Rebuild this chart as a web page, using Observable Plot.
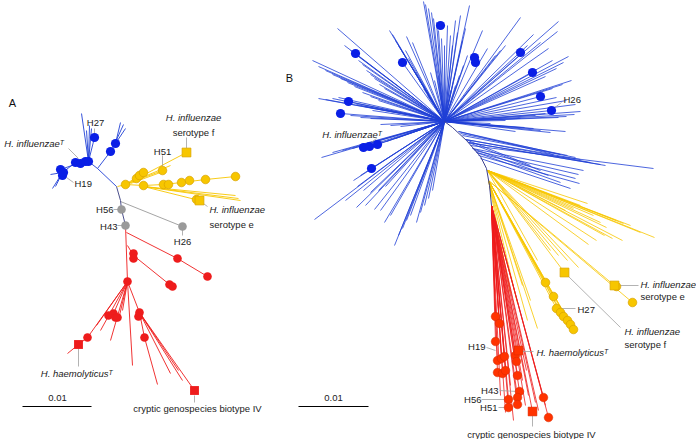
<!DOCTYPE html>
<html><head><meta charset="utf-8">
<script src="https://cdn.jsdelivr.net/npm/d3@7"></script>
<script src="https://cdn.jsdelivr.net/npm/@observablehq/plot@0.6"></script>
<style>body{margin:0;background:#fff}</style>
</head><body><div id="chart"></div>
<script>
// ---------- Panel A: tree branches [x1,y1,x2,y2] in layout units ----------
const aBlue = [[97,168,116,186],[97,168,88,161],[97,168,110,151],[110,151,115,143],[115,143,120,122],[115,143,125,128],[113,146,123,124],
  [88,161,81,113],[88,161,94,137],[88,161,89,125],[88,161,91,128],[88,161,86,130],[88,161,75,162],[75,162,62,172],[62,172,50,174],[62,172,52,188],[62,172,55,186],[80,162,60,169]];
const aBackbone = [[116,186,120,200],[120,200,121,209],[121,209,125,225]];
const aYellow = [[117,186,125,184],[125,184,186,152],[125,184,162,170],[125,184,170,165],[125,184,143,172],[125,184,143,185],[143,185,163,184],[163,184,181,182],[181,182,205,179],[205,179,235,176],[163,184,168,184],
  [143,186,238,198],[143,186,235,195],[143,186,240,200],[143,186,199,200],[130,183,160,172]];
const aGray = [[120,201,182,226]];
const aRed = [[125,225,127,281],[126,232,177,258],[177,258,207,276],[127,245,133,255],[133,255,169,284],[169,284,172,286],
  [127,281,113,313],[113,313,108,315],[113,313,117,317],[127,281,119,315],[127,281,122,310],[127,281,87,337],[87,337,78,344],[78,344,67,353],[127,281,100,330],[127,281,110,340],[127,281,96,325],
  [127,281,132,365],[127,281,139,312],[139,312,138,316],[139,312,144,337],[144,337,157,384],[139,312,170,373],[139,312,182,380],[139,312,194,390],[139,312,178,370]];
const aBlueDots = [[94,137],[115,143],[110,151],[75,162],[80,163],[85,161],[88,161],[60,169],[62,175],[63,172]];
const aYellowDots = [[125,184],[136,178],[139,175],[143,172],[143,185],[162,170],[163,184],[168,184],[181,182],[189,180],[205,179],[235,176],[196,199]];
const aYellowSquares = [[186,152],[199,200]];
const aGrayDots = [[121,209],[125,225],[182,226]];
const aRedDots = [[133,253],[133,258],[177,258],[207,276],[169,284],[172,286],[127,281],[108,315],[113,313],[115,317],[117,317],[87,337],[139,312],[138,316],[144,337]];
const aRedSquares = [[78,344],[194,390]];

// ---------- Panel B ----------
const bCenter = [444,121];
const bBlueTips = [[423,1],[425,4],[428,8],[431,12],[433,18],[436,22],[438,30],[441,38],[444,45],[447,25],[450,35],[452,45],[455,20],[457,32],[460,15],[462,40],[465,28],[469,5],[467,55],[463,65],[459,75],[455,85],[450,90],[438,75],[434,80],[430,72],
  [337,28],[344,45],[350,50],[355,53],[358,60],[362,64],[366,70],[370,74],[374,78],[379,84],[384,88],[389,30],[392,34],[395,40],[398,45],[402,62],[405,50],[408,58],[411,66],[415,72],[419,80],[423,88],[427,95],[412,42],[406,36],
  [312,60],[318,66],[325,70],[332,74],[340,78],[347,82],[354,86],[362,92],[370,96],[378,100],[318,98],[325,99],[332,98],[338,97],[348,101],[356,104],[364,106],[372,110],[340,113],[350,115],[360,117],[370,118],[380,124],[390,125],[400,126],
  [321,157],[332,152],[342,150],[352,148],[363,147],[370,146],[377,144],[386,141],[395,138],[405,134],[415,130],[371,168],[360,175],[353,180],[357,186],[363,190],[370,192],[378,190],[385,186],[356,207],[365,205],[374,209],[314,219],[345,200],[394,245],[398,235],[402,228],[406,220],[410,215],[416,222],[420,212],[424,205],[428,198],[432,190],[390,215],[384,222],[380,210],
  [482,30],[487,48],[495,55],[500,50],[505,45],[520,17],[522,52],[527,45],[533,34],[540,42],[558,21],[557,31],[548,48],[552,60],[568,56],[563,62],[556,68],[532,72],[545,76],[571,80],[562,84],[552,88],[540,96],[556,97],[566,100],[575,104],[580,111],[574,114],[566,116],[558,117],[551,110],[545,113],[535,115],[520,118],[505,120],[490,123],
  [500,126],[524,127],[533,128],[540,130],[565,131],[550,132],[515,131]];
const bBlueSide = [[458,131,553,154],[458,131,560,154],[460,133,567,155],[462,135,575,157],[465,139,580,159],[465,139,590,162],[468,142,600,164],[468,142,605,165],[470,145,653,168],[472,148,583,170],[474,150,578,174],[476,152,575,178],[478,155,579,183],[480,158,570,188],[476,152,560,182],[472,148,548,175],[468,142,540,170],[465,139,530,165]];
const bBackbone = [[444,121],[452,127],[466,140],[480,156],[486,168],[489,185],[491,205]];
const bYellowRoot = [487,170];
const bYellowTips = [[654,237],[640,232],[630,225],[623,223],[616,220],[606,227],[600,222],[593,215],[587,203],[580,205],[573,208],[565,210],[622,240],[612,238],[604,235],[596,240],[588,244],[578,267],[567,260],[564,272],[558,255],[550,250],[537,260]];
const bYellowRoot2 = [488,180];
const bYellowTips2 = [[545,282],[553,296],[556,308],[560,312],[563,316],[567,320],[570,324],[573,329],[614,285],[632,302],[537,328],[527,320],[517,303],[510,293],[530,300],[522,285]];
const bRedRoot = [491,205];
const bRedTips = [[495,316],[499,323],[495,341],[497,360],[501,358],[504,356],[497,372],[502,373],[505,370],[515,355],[516,361],[517,375],[519,391],[517,397],[508,399],[508,407],[517,404],[543,397],[548,417],[518,350],[532,411],[513,420],[505,412],[500,395],[525,405],[528,395],[535,402],[538,410],[545,405],[522,380],[510,385],[526,370]];
const bBlueDots = [[440,25],[355,53],[402,62],[348,101],[340,113],[363,147],[369,146],[377,144],[371,168],[474,57],[475,62],[520,52],[532,72],[540,96],[551,110]];
const bYellowDots = [[545,282],[553,296],[556,308],[560,312],[563,316],[567,320],[570,324],[573,329],[616,286],[632,302]];
const bYellowSquares = [[564,272],[614,285]];
const bRedDots = [[495,316],[499,323],[495,341],[497,360],[501,358],[504,356],[497,372],[502,373],[505,370],[515,355],[516,361],[517,375],[519,391],[517,397],[508,399],[508,407],[517,404],[543,397],[548,417]];
const bRedSquares = [[518,350],[532,411]];

// ---------- Labels ----------
const panelLabels = [["A",12,103],["B",289,78]];
const labelsMiddle = [["H27",95,122],["H51",162,151],["H26",182,241],["serotype f",193,132],["0.01",57,397],["0.01",333,397],["cryptic genospecies biotype IV",197,408],["cryptic genospecies biotype IV",531,434]];
const labelsStart = [["H26",563,99],["H19",74,183],["serotype e",209,224],["H27",577,309],["serotype e",640,296],["serotype f",624,344]];
const labelsEnd = [["H56",113,209],["H43",117,226],["H19",485,346],["H43",498,390],["H56",481,399],["H51",497,407]];
const italicMiddle = [["H. influenzae",193,117],["H. haemolyticus\u1D40",76,373]];
const italicStart = [["H. influenzae",209,209],["H. influenzae",640,284],["H. influenzae",624,331],["H. haemolyticus\u1D40",536,352]];
const italicEnd = [["H. influenzae\u1D40",63,143],["H. influenzae\u1D40",381,134]];
const leaders = [[94,128,94,133],[68,148,78,158],[66,177,73,182],[186,137,186,148],[162,155,162,166],[200,201,207,206],[113,209,118,209],[117,225,122,225],[182,229,182,235],[78,348,78,366],[194,395,194,402],
  [553,108,561,102],[567,275,620,327],[619,285,638,285],[560,308,575,308],[486,347,495,350],[521,351,533,351],[499,390,517,391],[481,399,505,399],[498,407,505,407],[532,415,532,426],[376,138,368,144]];
const scaleBars = [[22,406,91,406],[298,406,368,406]];

// ---------- build ----------
const fan = (root, tips) => tips.map(t => [root[0], root[1], t[0], t[1]]);
const pathSegs = pts => pts.slice(1).map((p,i) => [pts[i][0],pts[i][1],p[0],p[1]]);
const seg = {x1:d=>d[0], y1:d=>d[1], x2:d=>d[2], y2:d=>d[3]};
const pt = {x:d=>d[0], y:d=>d[1]};
const tx = {x:d=>d[1], y:d=>d[2], text:d=>d[0]};

const BLUE="#1f3fd6", BLUED="#0a1fe6", YEL="#f7c600", YELS="#d8a200", RED="#ee1c1c", REDB="#ff3300", GRAY="#9a9a9a";
const font = "Liberation Sans, Arial, sans-serif";
const FS = 9.5;

const chart = Plot.plot({
  width: 696, height: 439, margin: 0,
  x: {domain: [0, 696], axis: null},
  y: {domain: [0, 439], range: [0, 439], axis: null},
  style: {fontFamily: font, background: "#fff"},
  marks: [
    Plot.link(aBlue, {...seg, stroke: BLUE, strokeWidth: 0.9}),
    Plot.link(aYellow, {...seg, stroke: YEL, strokeWidth: 0.9}),
    Plot.link(aGray, {...seg, stroke: GRAY, strokeWidth: 0.9}),
    Plot.link(aRed, {...seg, stroke: RED, strokeWidth: 0.9}),
    Plot.link(aBackbone, {...seg, stroke: "#4b4f8c", strokeWidth: 1}),
    Plot.link(fan(bCenter, bBlueTips), {...seg, stroke: BLUE, strokeWidth: 0.8}),
    Plot.link(bBlueSide, {...seg, stroke: BLUE, strokeWidth: 0.8}),
    Plot.link(fan(bYellowRoot, bYellowTips), {...seg, stroke: YEL, strokeWidth: 0.8}),
    Plot.link(fan(bYellowRoot2, bYellowTips2), {...seg, stroke: YEL, strokeWidth: 0.8}),
    Plot.link(fan(bRedRoot, bRedTips), {...seg, stroke: RED, strokeWidth: 0.8}),
    Plot.link(pathSegs(bBackbone), {...seg, stroke: "#3b3f8f", strokeWidth: 1}),
    Plot.link(leaders, {...seg, stroke: "#a0a0a0", strokeWidth: 0.8}),
    Plot.link(scaleBars, {...seg, stroke: "#000", strokeWidth: 1}),
    Plot.dot(aBlueDots, {...pt, r: 4.6, fill: BLUED}),
    Plot.dot(aYellowDots, {...pt, r: 4.3, fill: YEL, stroke: YELS, strokeWidth: 0.7}),
    Plot.dot(aYellowSquares, {...pt, r: 5, symbol: "square", fill: YEL, stroke: YELS, strokeWidth: 0.7}),
    Plot.dot(aGrayDots, {...pt, r: 4.3, fill: GRAY}),
    Plot.dot(aRedDots, {...pt, r: 4.3, fill: RED}),
    Plot.dot(aRedSquares, {...pt, r: 5, symbol: "square", fill: RED}),
    Plot.dot(bBlueDots, {...pt, r: 4.6, fill: BLUED}),
    Plot.dot(bYellowDots, {...pt, r: 4.3, fill: YEL, stroke: YELS, strokeWidth: 0.7}),
    Plot.dot(bYellowSquares, {...pt, r: 5, symbol: "square", fill: YEL, stroke: YELS, strokeWidth: 0.7}),
    Plot.dot(bRedDots, {...pt, r: 4.3, fill: REDB, stroke: "#d42a00", strokeWidth: 0.5}),
    Plot.dot(bRedSquares, {...pt, r: 5, symbol: "square", fill: REDB, stroke: "#d42a00", strokeWidth: 0.5}),
    Plot.text(panelLabels, {...tx, fontSize: 11, fill: "#111"}),
    Plot.text(labelsMiddle, {...tx, fontSize: FS, fill: "#222"}),
    Plot.text(labelsStart, {...tx, fontSize: FS, textAnchor: "start", fill: "#222"}),
    Plot.text(labelsEnd, {...tx, fontSize: FS, textAnchor: "end", fill: "#222"}),
    Plot.text(italicMiddle, {...tx, fontSize: FS, fontStyle: "italic", fill: "#222"}),
    Plot.text(italicStart, {...tx, fontSize: FS, fontStyle: "italic", textAnchor: "start", fill: "#222"}),
    Plot.text(italicEnd, {...tx, fontSize: FS, fontStyle: "italic", textAnchor: "end", fill: "#222"})
  ]
});
document.getElementById("chart").appendChild(chart);
</script></body></html>
